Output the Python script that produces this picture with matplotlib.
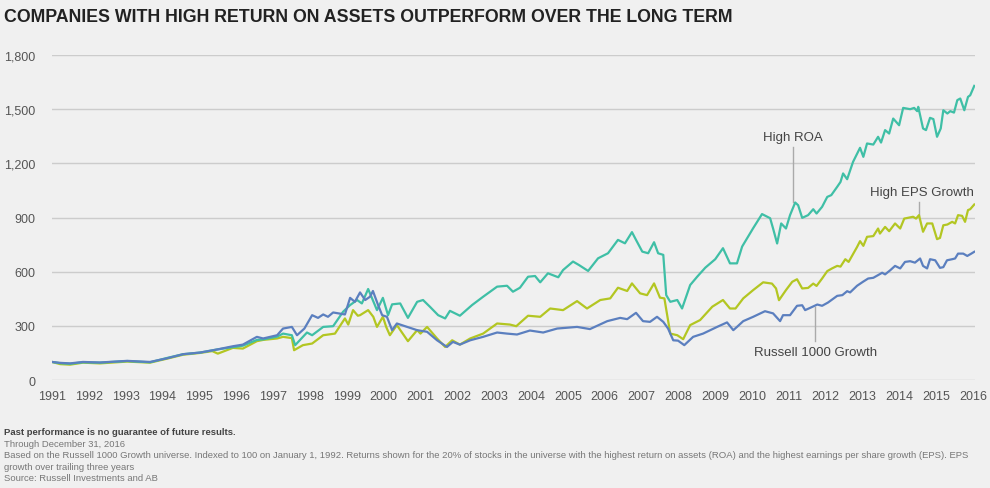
import matplotlib.pyplot as plt

# Growth of 100 (fractional years)
roa_years = [1991.00, 1991.22, 1991.49, 1991.84, 1992.30, 1993.04, 1993.66, 1994.12, 1994.56,
             1995.02, 1995.48, 1995.91, 1996.18, 1996.56, 1996.73, 1997.11, 1997.27, 1997.51,
             1997.60, 1997.92, 1998.06, 1998.36, 1998.63, 1998.90, 1999.09, 1999.28, 1999.41,
             1999.58, 1999.63, 1999.82, 1999.98, 2000.12, 2000.23, 2000.45, 2000.66, 2000.91,
             2001.07, 2001.26, 2001.48, 2001.67, 2001.80, 2002.07, 2002.40, 2002.70, 2003.08,
             2003.35, 2003.51, 2003.70, 2003.92, 2004.11, 2004.25, 2004.46, 2004.74, 2004.87,
             2005.14, 2005.30, 2005.55, 2005.82, 2006.09, 2006.36, 2006.55, 2006.74, 2006.85,
             2007.02, 2007.18, 2007.34, 2007.45, 2007.59, 2007.67, 2007.78, 2007.97, 2008.10,
             2008.32, 2008.51, 2008.73, 2009.00, 2009.21, 2009.40, 2009.59, 2009.73, 2010.03,
             2010.27, 2010.49, 2010.57, 2010.68, 2010.79, 2010.92, 2011.03, 2011.17, 2011.25,
             2011.36, 2011.52, 2011.66, 2011.75, 2011.90, 2012.04, 2012.15, 2012.31, 2012.40,
             2012.47, 2012.58, 2012.74, 2012.93, 2013.02, 2013.12, 2013.29, 2013.42, 2013.50,
             2013.61, 2013.72, 2013.83, 2013.99, 2014.10, 2014.29, 2014.40, 2014.48, 2014.51,
             2014.64, 2014.72, 2014.83, 2014.92, 2015.02, 2015.12, 2015.19, 2015.30, 2015.38,
             2015.48, 2015.57, 2015.65, 2015.76, 2015.86, 2015.92, 2016.03]
roa_values = [100, 93, 90, 98, 96, 105, 98, 122, 143,
              152, 169, 182, 190, 222, 225, 240, 257, 248,
              193, 263, 248, 294, 298, 378, 415, 443, 424,
              504, 480, 387, 455, 359, 419, 424, 344, 433,
              443, 405, 359, 341, 383, 356, 415, 461, 517,
              522, 489, 511, 572, 576, 541, 591, 569, 609,
              656, 637, 604, 674, 702, 776, 757, 819, 776,
              711, 702, 763, 702, 693, 470, 433, 443, 396,
              526, 572, 622, 669, 730, 646, 646, 739, 841,
              919, 896, 839, 756, 867, 839, 913, 983, 968,
              898, 913, 946, 922, 959, 1014, 1024, 1070, 1097,
              1144, 1112, 1208, 1286, 1236, 1310, 1304, 1347, 1315,
              1384, 1365, 1448, 1411, 1507, 1500, 1507, 1489, 1513,
              1393, 1384, 1452, 1445, 1347, 1393, 1494, 1476, 1489,
              1481, 1550, 1559, 1494, 1568, 1577, 1629]

eps_years = [1991.00, 1991.22, 1991.49, 1991.84, 1992.30, 1993.04, 1993.66, 1994.12, 1994.56,
             1995.02, 1995.35, 1995.50, 1995.91, 1996.18, 1996.56, 1996.73, 1997.11, 1997.27,
             1997.51, 1997.57, 1997.81, 1998.06, 1998.36, 1998.68, 1998.95, 1999.04, 1999.17,
             1999.30, 1999.36, 1999.58, 1999.72, 1999.82, 1999.98, 2000.07, 2000.17, 2000.36,
             2000.66, 2000.91, 2001.00, 2001.18, 2001.45, 2001.67, 2001.86, 2002.07, 2002.35,
             2002.70, 2003.08, 2003.43, 2003.60, 2003.92, 2004.25, 2004.52, 2004.87, 2005.25,
             2005.52, 2005.88, 2006.15, 2006.36, 2006.61, 2006.74, 2006.96, 2007.15, 2007.34,
             2007.50, 2007.62, 2007.78, 2007.97, 2008.13, 2008.32, 2008.59, 2008.92, 2009.21,
             2009.40, 2009.55, 2009.76, 2010.03, 2010.30, 2010.54, 2010.65, 2010.73, 2010.92,
             2011.09, 2011.22, 2011.36, 2011.52, 2011.66, 2011.75, 2011.90, 2012.04, 2012.17,
             2012.31, 2012.40, 2012.53, 2012.62, 2012.85, 2012.93, 2013.02, 2013.12, 2013.29,
             2013.42, 2013.47, 2013.61, 2013.72, 2013.88, 2014.02, 2014.13, 2014.37, 2014.45,
             2014.53, 2014.64, 2014.75, 2014.89, 2015.02, 2015.10, 2015.19, 2015.30, 2015.43,
             2015.51, 2015.59, 2015.70, 2015.78, 2015.86, 2015.92, 2016.03]
eps_values = [100, 88, 85, 96, 92, 102, 96, 118, 140,
              150, 160, 146, 178, 174, 215, 222, 230, 239,
              232, 165, 193, 202, 248, 257, 341, 307, 387,
              356, 359, 387, 350, 294, 350, 294, 248, 304,
              215, 276, 257, 294, 230, 183, 220, 196, 230,
              257, 313, 307, 298, 356, 350, 396, 387, 437,
              396, 443, 452, 511, 493, 535, 480, 470, 535,
              456, 452, 257, 248, 226, 304, 332, 406, 443,
              396, 396, 452, 498, 541, 534, 507, 442, 498,
              544, 558, 507, 510, 534, 521, 562, 603, 618,
              632, 628, 669, 654, 737, 769, 743, 793, 797,
              839, 811, 848, 824, 867, 839, 894, 904, 894,
              913, 821, 867, 867, 780, 787, 857, 861, 876,
              867, 913, 909, 876, 941, 946, 972]

r1000_years = [1991.00, 1991.22, 1991.49, 1991.84, 1992.30, 1993.04, 1993.66, 1994.12, 1994.56,
               1995.02, 1995.48, 1995.91, 1996.18, 1996.56, 1996.73, 1997.11, 1997.27, 1997.51,
               1997.65, 1997.85, 1998.06, 1998.22, 1998.36, 1998.49, 1998.63, 1998.95, 1999.09,
               1999.22, 1999.36, 1999.50, 1999.63, 1999.71, 1999.85, 1999.96, 2000.09, 2000.23,
               2000.36, 2000.64, 2000.91, 2001.18, 2001.45, 2001.72, 2001.88, 2002.07, 2002.35,
               2002.70, 2003.08, 2003.35, 2003.62, 2003.97, 2004.33, 2004.71, 2005.25, 2005.60,
               2006.07, 2006.42, 2006.61, 2006.85, 2007.04, 2007.23, 2007.42, 2007.59, 2007.72,
               2007.86, 2007.99, 2008.16, 2008.40, 2008.67, 2009.05, 2009.32, 2009.49, 2009.59,
               2009.76, 2010.03, 2010.35, 2010.57, 2010.76, 2010.84, 2011.03, 2011.22, 2011.36,
               2011.44, 2011.58, 2011.77, 2011.90, 2012.06, 2012.31, 2012.45, 2012.58, 2012.66,
               2012.85, 2013.01, 2013.15, 2013.29, 2013.42, 2013.53, 2013.61, 2013.75, 2013.88,
               2014.02, 2014.15, 2014.29, 2014.42, 2014.56, 2014.64, 2014.75, 2014.83, 2014.97,
               2015.10, 2015.19, 2015.29, 2015.43, 2015.51, 2015.59, 2015.73, 2015.84, 2015.95,
               2016.03]
r1000_values = [100, 95, 92, 100, 97, 106, 100, 120, 143,
                152, 169, 187, 196, 239, 230, 248, 285, 294,
                248, 285, 359, 344, 363, 350, 374, 363, 455,
                433, 485, 443, 461, 493, 415, 359, 350, 276,
                313, 294, 276, 267, 220, 183, 211, 196, 220,
                239, 263, 257, 252, 274, 263, 285, 294, 282,
                326, 344, 337, 372, 326, 322, 350, 322, 285,
                220, 218, 193, 239, 257, 294, 319, 276, 294,
                326, 350, 381, 369, 326, 359, 359, 411, 414,
                387, 400, 418, 411, 429, 466, 470, 492, 485,
                522, 544, 562, 566, 581, 594, 585, 608, 632,
                618, 654, 658, 650, 673, 632, 618, 669, 663,
                621, 625, 663, 669, 673, 700, 700, 687, 700,
                710]

year_ticks = list(range(1991, 2017))
value_ticks = [0, 300, 600, 900, 1200, 1500, 1800]

bg = "#f0f0f0"
grid_col = "#cccccc"
text_col = "#555555"
roa_col = "#3fbfa6"
eps_col = "#b3c622"
r1000_col = "#5b7fbf"
font = "Liberation Sans"

fig = plt.figure(figsize=(9.9, 4.89), dpi=100, facecolor=bg)
ax = fig.add_axes([52 / 990, 1 - 381 / 489, (975 - 52) / 990, (381 - 56) / 489])
ax.set_facecolor(bg)

ax.plot(eps_years, eps_values, color=eps_col, lw=1.6, zorder=3)
ax.plot(roa_years, roa_values, color=roa_col, lw=1.6, zorder=4)
ax.plot(r1000_years, r1000_values, color=r1000_col, lw=1.6, zorder=5)

ax.set_xlim(1991, 2016.05)
ax.set_ylim(0, 1800)
ax.set_yticks(value_ticks)
ax.set_yticklabels([f"{v:,}" for v in value_ticks])
ax.set_xticks(year_ticks)
ax.set_xticklabels([str(y) for y in year_ticks])
ax.grid(axis="y", color=grid_col, lw=1)
ax.set_axisbelow(True)
for s in ax.spines.values():
    s.set_visible(False)
ax.tick_params(length=0, colors=text_col, labelsize=9)
ax.tick_params(axis="y", pad=12)
ax.tick_params(axis="x", pad=7)
for lab in ax.get_xticklabels() + ax.get_yticklabels():
    lab.set_fontfamily(font)

# series labels with leader lines
lead = dict(color="#aaaaaa", lw=1)
lab_kw = dict(fontsize=9.5, color="#444444", family=font)
ax.plot([2011.12, 2011.12], [985, 1290], **lead)
ax.text(2011.12, 1315, "High ROA", ha="center", va="bottom", **lab_kw)
ax.plot([2014.53, 2014.53], [910, 985], **lead)
ax.text(2014.6, 1010, "High EPS Growth", ha="center", va="bottom", **lab_kw)
ax.plot([2011.72, 2011.72], [215, 405], **lead)
ax.text(2011.72, 190, "Russell 1000 Growth", ha="center", va="top", **lab_kw)

fig.text(4 / 990, 1 - 17 / 489, "COMPANIES WITH HIGH RETURN ON ASSETS OUTPERFORM OVER THE LONG TERM",
         fontsize=12.8, fontweight="bold", color="#222222", family=font,
         va="center", ha="left")

foot_kw = dict(fontsize=6.8, family=font, va="center", ha="left")
fig.text(4 / 990, 1 - 433 / 489, "Past performance is no guarantee of future results.",
         fontweight="bold", color="#444444", **foot_kw)
fig.text(4 / 990, 1 - 445 / 489, "Through December 31, 2016", color="#777777", **foot_kw)
fig.text(4 / 990, 1 - 456 / 489,
         "Based on the Russell 1000 Growth universe. Indexed to 100 on January 1, 1992. Returns shown for the 20% "
         "of stocks in the universe with the highest return on assets (ROA) and the highest earnings per share growth (EPS). EPS",
         color="#777777", **foot_kw)
fig.text(4 / 990, 1 - 468 / 489, "growth over trailing three years", color="#777777", **foot_kw)
fig.text(4 / 990, 1 - 479 / 489, "Source: Russell Investments and AB", color="#777777", **foot_kw)

fig.savefig("out.png", dpi=100, facecolor=bg)
